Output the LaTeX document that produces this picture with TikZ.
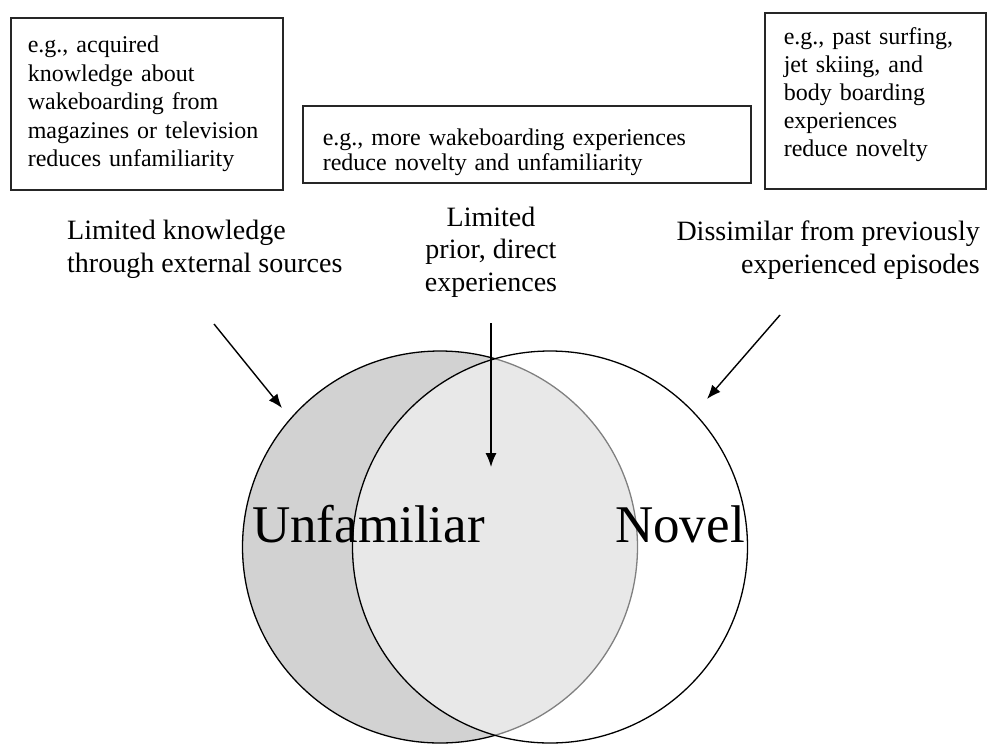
\documentclass[tikz,border=0pt]{standalone}
\usepackage{fontspec}
\setmainfont{Liberation Serif}
\usepackage{tikz}
\usetikzlibrary{arrows.meta,positioning,shapes.geometric}

\begin{document}
\begin{tikzpicture}[x=1pt, y=-1pt, >={Latex[length=14pt,width=11pt]}]
    \tikzstyle{example} = [rectangle, draw=black!85, line width=1.6pt, anchor=north west, align=left, font=\fontsize{24}{28.5}\selectfont]
    \tikzstyle{cause} = [inner sep=0pt, font=\fontsize{28}{32.5}\selectfont]
    \tikzstyle{setname} = [inner sep=0pt, anchor=base west, font=\fontsize{53}{60}\selectfont]
    \tikzstyle{circ} = [ellipse, draw=black, line width=1.3pt, minimum width=395pt, minimum height=392pt]
    \tikzstyle{arrow} = [draw, ->, line width=1.4pt]

    \useasboundingbox (0,0) rectangle (987,745);

    % the two sets
    \node [circ, fill=gray!35] (unfam) at (440,547) {};
    \node [circ, fill=white, fill opacity=0.5] (novel) at (550,547) {};
    \node [setname] (unfamtxt) at (252,542) {Unfamiliar};
    \node [setname] (noveltxt) at (615,542) {Novel};

    % examples
    \node [example, minimum width=272pt, minimum height=172pt, inner xsep=17pt, text width=238pt] (exknow) at (10,17)
        {e.g., acquired\\knowledge about\\wakeboarding from\\magazines or television\\reduces unfamiliarity};
    \node [example, minimum width=448pt, minimum height=77pt, inner xsep=20pt, text width=408pt, font=\fontsize{24}{24.5}\selectfont] (exmore) at (302,105)
        {\rule{0pt}{33pt}e.g., more wakeboarding experiences\\reduce novelty and unfamiliarity};
    \node [example, minimum width=221pt, minimum height=176pt, inner xsep=19pt, text width=183pt, font=\fontsize{24}{28}\selectfont] (expast) at (764,12)
        {e.g., past surfing,\\jet skiing, and\\body boarding\\experiences\\reduce novelty\rule[-17pt]{0pt}{0pt}};

    % causes (base = last line)
    \node [cause, anchor=base west, align=left] (knowl) at (67,272) {Limited knowledge\\through external sources};
    \node [cause, anchor=base, align=center] (prior) at (491,291) {Limited\\prior, direct\\experiences};
    \node [cause, anchor=base east, align=right] (dissim) at (980,273) {Dissimilar from previously\\experienced episodes};

    \coordinate (knowl0) at (214,324);
    \coordinate (knowl1) at (282,408);
    \coordinate (prior0) at (491,323);
    \coordinate (prior1) at (491,467);
    \coordinate (dissim0) at (780,315);
    \coordinate (dissim1) at (707,399);

    \draw [arrow] (knowl0) -- (knowl1);
    \draw [arrow] (prior0) -- (prior1);
    \draw [arrow] (dissim0) -- (dissim1);
\end{tikzpicture}
\end{document}
